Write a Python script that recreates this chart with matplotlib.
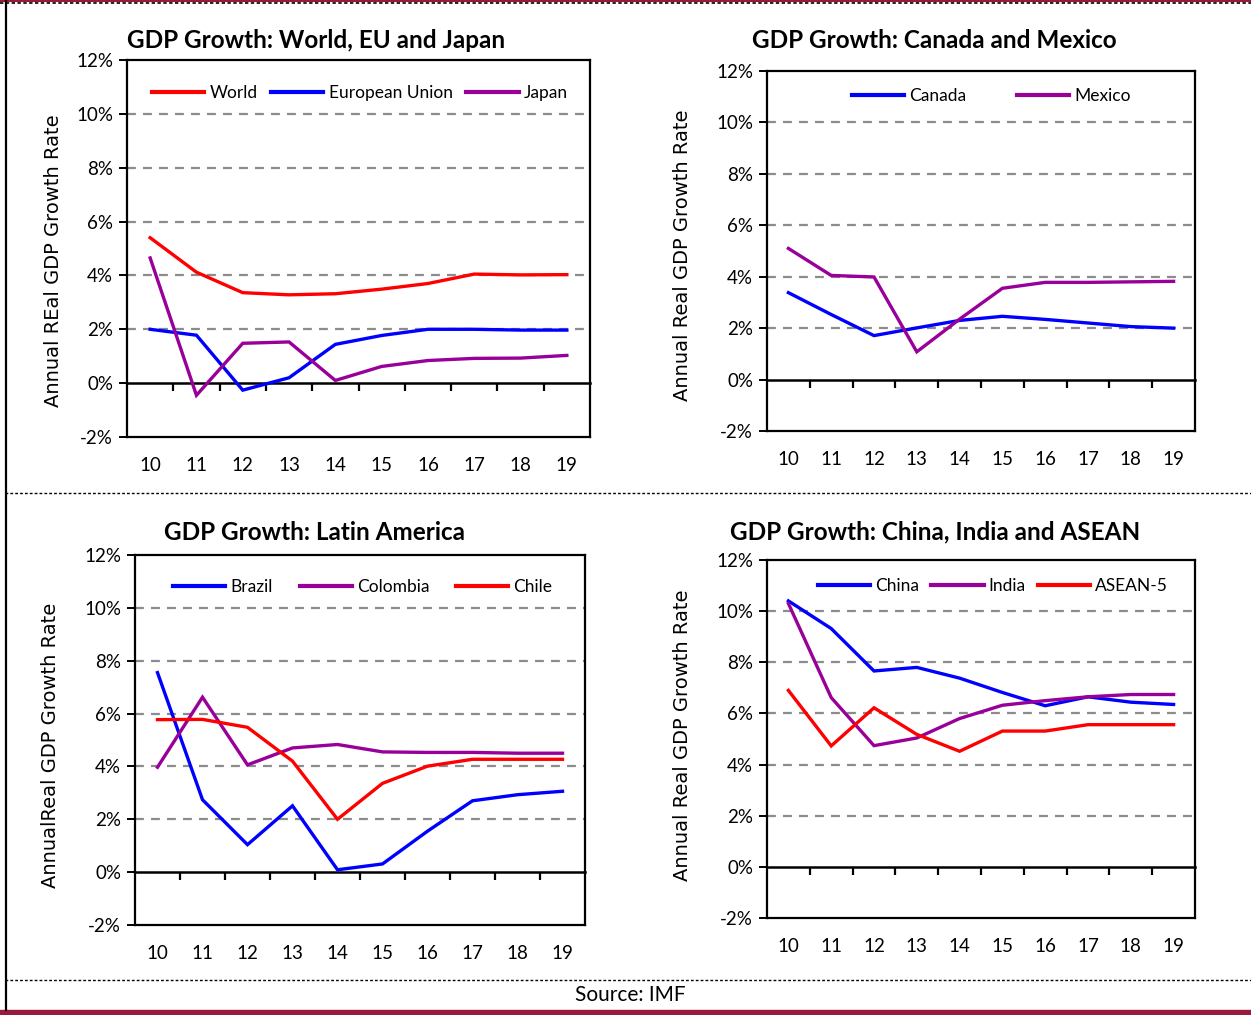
import matplotlib
matplotlib.use("Agg")
import matplotlib.pyplot as plt
from matplotlib.lines import Line2D
import numpy as np

# ---- data (IMF real GDP growth, %) ----
years = ["10", "11", "12", "13", "14", "15", "16", "17", "18", "19"]
y_ticks = [-2, 0, 2, 4, 6, 8, 10, 12]

world = [5.4, 4.12, 3.36, 3.28, 3.32, 3.49, 3.7, 4.05, 4.02, 4.03]
eu = [2.0, 1.78, -0.26, 0.2, 1.44, 1.77, 2.0, 2.0, 1.97, 1.97]
japan = [4.65, -0.45, 1.48, 1.53, 0.1, 0.62, 0.84, 0.92, 0.93, 1.03]

canada = [3.38, 2.53, 1.71, 2.01, 2.3, 2.46, 2.34, 2.2, 2.06, 2.0]
mexico = [5.1, 4.05, 3.99, 1.08, 2.35, 3.55, 3.78, 3.78, 3.8, 3.82]

brazil = [7.55, 2.74, 1.04, 2.51, 0.09, 0.31, 1.55, 2.7, 2.93, 3.06]
colombia = [3.97, 6.62, 4.06, 4.7, 4.83, 4.55, 4.53, 4.53, 4.5, 4.5]
chile = [5.77, 5.78, 5.48, 4.2, 2.0, 3.36, 4.01, 4.27, 4.27, 4.27]

china = [10.4, 9.32, 7.66, 7.8, 7.38, 6.82, 6.3, 6.65, 6.44, 6.35]
india = [10.3, 6.62, 4.74, 5.04, 5.8, 6.32, 6.5, 6.65, 6.74, 6.74]
asean5 = [6.9, 4.73, 6.22, 5.18, 4.52, 5.31, 5.31, 5.56, 5.56, 5.56]

RED = "#FF0000"
BLUE = "#0000FF"
PURPLE = "#990099"
MAROON = "#9A1A3C"

W, H = 1251, 1015
fig = plt.figure(figsize=(W / 100, H / 100), dpi=100)
fig.patch.set_facecolor("white")


def px_rect(left, top, right, bottom):
    return [left / W, 1 - bottom / H, (right - left) / W, (bottom - top) / H]


panels = [
    dict(rect=(127, 60, 590, 437),
         title="GDP Growth: World, EU and Japan", title_xy=(316, 41),
         ylabel="Annual REal GDP Growth Rate", ylabel_xy=(54, 261),
         series=[("World", world, RED), ("European Union", eu, BLUE), ("Japan", japan, PURPLE)],
         leg_x=(152, 93), colsp=0.8),
    dict(rect=(767, 71, 1195, 431),
         title="GDP Growth: Canada and Mexico", title_xy=(934, 41),
         ylabel="Annual Real GDP Growth Rate", ylabel_xy=(682, 255),
         series=[("Canada", canada, BLUE), ("Mexico", mexico, PURPLE)],
         leg_x=(852, 96), colsp=2.9),
    dict(rect=(135, 555, 585, 925),
         title="GDP Growth: Latin America", title_xy=(315, 532),
         ylabel="AnnualReal GDP Growth Rate", ylabel_xy=(51, 745),
         series=[("Brazil", brazil, BLUE), ("Colombia", colombia, PURPLE), ("Chile", chile, RED)],
         leg_x=(173, 587), colsp=1.55),
    dict(rect=(767, 560, 1195, 918),
         title="GDP Growth: China, India and ASEAN", title_xy=(935, 532),
         ylabel="Annual Real GDP Growth Rate", ylabel_xy=(683, 735),
         series=[("China", china, BLUE), ("India", india, PURPLE), ("ASEAN-5", asean5, RED)],
         leg_x=(818, 586), colsp=0.7),
]

FONT = "Lato"
x = np.arange(len(years))

for p in panels:
    ax = fig.add_axes(px_rect(*p["rect"]))
    ax.set_xlim(-0.5, len(years) - 0.5)
    ax.set_ylim(-2, 12)

    # dashed gridlines at the positive ticks
    for v in y_ticks:
        if 0 < v < 12:
            ax.axhline(v, color="#8C8C8C", lw=1.6, ls=(0, (4, 3.2)), zorder=1)

    handles = []
    for name, vals, col in p["series"]:
        ax.plot(x, vals, color=col, lw=2.4, solid_joinstyle="miter", zorder=3)
        handles.append(Line2D([], [], color=col, lw=3.0, label=name))

    for s in ax.spines.values():
        s.set_linewidth(1.6)
        s.set_color("black")

    ax.set_yticks(y_ticks)
    ax.set_yticklabels([f"{v}%" for v in y_ticks], fontfamily=FONT, fontsize=13.5)
    ax.tick_params(axis="y", direction="out", length=6, width=1.4, pad=4)

    ax.set_xticks(x)
    ax.set_xticklabels(years, fontfamily=FONT, fontsize=13.5)
    ax.tick_params(axis="x", length=0, pad=14.5)

    # horizontal axis crossing at zero with ticks between categories
    sec = ax.secondary_xaxis(2 / 14)
    sec.set_xticks(np.arange(0.5, len(years) - 1, 1.0))
    sec.tick_params(axis="x", direction="out", length=6, width=1.6, labelbottom=False,
                    labeltop=False)
    for s in sec.spines.values():
        s.set_linewidth(1.8)

    lx, ly = p["leg_x"]
    ax.legend(handles=handles, loc="center left",
              bbox_to_anchor=(lx / W, 1 - ly / H), bbox_transform=fig.transFigure,
              ncol=len(handles), frameon=False, handlelength=3.0, handletextpad=0.3,
              columnspacing=p["colsp"], borderaxespad=0, borderpad=0,
              prop=dict(family=FONT, size=12.5))

    tx, ty = p["title_xy"]
    fig.text(tx / W, 1 - ty / H, p["title"], ha="center", va="center",
             fontfamily=FONT, fontweight="bold", fontsize=17.5)
    yx, yy = p["ylabel_xy"]
    fig.text(yx / W, 1 - yy / H, p["ylabel"], ha="center", va="center", rotation=90,
             fontfamily="DejaVu Sans", fontsize=14)

# page furniture: border, separators and source line
border = fig.add_axes([0, 0, 1, 1], zorder=-1)
border.set_xlim(0, W)
border.set_ylim(H, 0)
border.axis("off")
border.plot([0, W], [0.5, 0.5], color=MAROON, lw=1.5)
border.plot([0, W], [2.5, 2.5], color="black", lw=1.2, ls=(0, (2, 1.5)))
border.plot([5.5, 5.5], [0, 1010], color="black", lw=1.6)
border.plot([5, W], [493, 493], color="black", lw=1.0, ls=(0, (2, 1.5)))
border.plot([5, W], [980, 980], color="black", lw=1.0, ls=(0, (2, 1.5)))
border.fill_between([0, W], 1010, H, color=MAROON)

fig.text(630 / W, 1 - 995 / H, "Source: IMF", ha="center", va="center",
         fontfamily=FONT, fontsize=15)

fig.savefig("out.png", dpi=100, facecolor="white")
